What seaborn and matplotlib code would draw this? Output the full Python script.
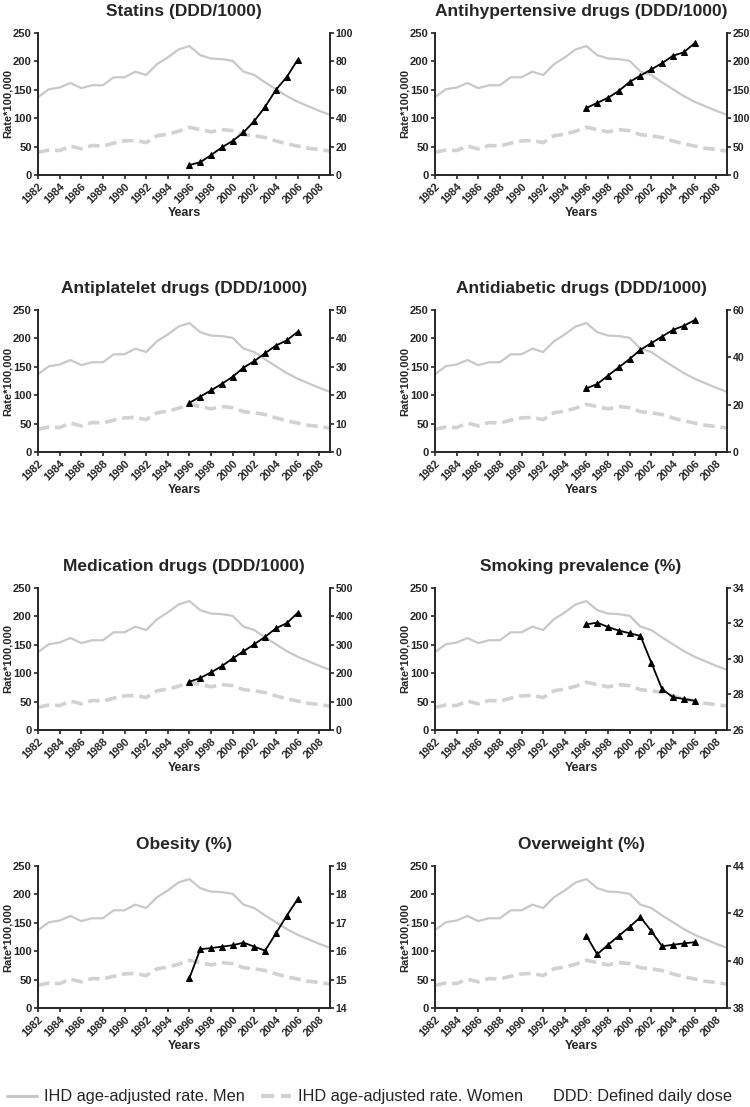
import numpy as np
import matplotlib
matplotlib.use("Agg")
import matplotlib.pyplot as plt
from matplotlib.lines import Line2D
import seaborn as sns

# IHD age-adjusted rates (per 100,000), 1982-2009
years = list(range(1982, 2010))
men = [137, 151, 154, 162, 153, 158, 158, 172, 172, 182, 176, 195, 207, 221,
       227, 211, 205, 204, 201, 182, 176, 163, 151, 139, 129, 121, 113, 106]
women = [40, 44, 43, 51, 46, 52, 51, 56, 60, 61, 57, 69, 72, 77,
         84, 80, 76, 80, 78, 71, 69, 66, 60, 55, 51, 47, 45, 42]

# risk factor series, 1996-2006
factor_years = list(range(1996, 2007))
statins = [7, 9, 14, 19.5, 24, 30, 38, 48, 60, 69, 81]
antihypertensive = [118, 127, 136, 148, 164, 175, 186, 197, 210, 216, 232]
antiplatelet = [17.3, 19.5, 21.7, 24, 26.5, 29.7, 32, 34.8, 37.5, 39.3, 42.3]
antidiabetic = [26.9, 28.7, 32.3, 35.8, 39.3, 43.2, 46, 48.8, 51.6, 53.3, 55.7]
medication = [170, 183, 203, 225, 252, 277, 302, 328, 358, 376, 412]
smoking = [31.95, 32.05, 31.8, 31.6, 31.45, 31.3, 29.8, 28.3, 27.85, 27.75, 27.65]
obesity = [15.05, 16.07, 16.11, 16.16, 16.21, 16.3, 16.16, 16.02, 16.63, 17.25, 17.83]
overweight = [41.05, 40.27, 40.67, 41.05, 41.43, 41.84, 41.25, 40.61, 40.67, 40.73, 40.78]

titles = ["Statins (DDD/1000)", "Antihypertensive drugs (DDD/1000)",
          "Antiplatelet drugs (DDD/1000)", "Antidiabetic drugs (DDD/1000)",
          "Medication drugs (DDD/1000)", "Smoking prevalence (%)",
          "Obesity (%)", "Overweight (%)"]
series = [statins, antihypertensive, antiplatelet, antidiabetic,
          medication, smoking, obesity, overweight]
right_ticks = [np.arange(0, 101, 20), np.arange(0, 251, 50),
               np.arange(0, 51, 10), np.arange(0, 61, 20),
               np.arange(0, 501, 100), np.arange(26, 35, 2),
               np.arange(14, 20, 1), np.arange(38, 45, 2)]

sns.set_style("ticks")
plt.rcParams['font.family'] = ['Liberation Sans', 'DejaVu Sans']

fig = plt.figure(figsize=(7.5, 11.07), dpi=100)

W, H = 750, 1107
col_left = [38, 435]
row_top = [33, 310, 588, 866]
ax_w, ax_h = 292, 142

men_col = "#c9c9c9"
women_col = "#d2d2d2"

for i, (title, vals, rt) in enumerate(zip(titles, series, right_ticks)):
    r, c = divmod(i, 2)
    ax = fig.add_axes([col_left[c] / W, 1 - (row_top[r] + ax_h) / H,
                       ax_w / W, ax_h / H])
    sns.lineplot(x=years, y=men, ax=ax, color=men_col, lw=1.6)
    sns.lineplot(x=years, y=women, ax=ax, color=women_col, lw=2.6)
    ax.lines[-1].set_dashes([3.2, 1.6])
    ax.set_xlim(1982, 2009)
    ax.set_ylim(0, 250)
    ax.set_yticks(range(0, 251, 50))
    ax.set_xticks(range(1982, 2009, 2))
    ax.set_xticklabels([str(y) for y in range(1982, 2009, 2)], rotation=45,
                       ha='right', rotation_mode='anchor')
    ax.set_ylabel("Rate*100,000", fontsize=8, fontweight='bold', labelpad=0.5)
    ax.set_xlabel("Years", fontsize=9, fontweight='bold', labelpad=1)
    ax.set_title(title, fontsize=12.5, fontweight='bold', pad=12)

    ax2 = ax.twinx()
    sns.lineplot(x=factor_years, y=vals, ax=ax2, color='black', lw=1.3,
                 marker='^', markersize=5, markeredgecolor='black')
    ax2.set_ylim(rt[0], rt[-1])
    ax2.set_yticks(rt)
    ax2.set_ylabel("")

    for a in (ax, ax2):
        a.spines['top'].set_visible(False)
        for s in a.spines.values():
            s.set_linewidth(1.4)
        a.tick_params(length=3, width=1.2, labelsize=8, pad=1.5)
        for lab in a.get_xticklabels() + a.get_yticklabels():
            lab.set_fontweight('bold')
    ax.tick_params(axis='x', labelsize=7.8)
    ax2.tick_params(axis='y', labelsize=7.6, pad=1)
    ax.spines['right'].set_visible(False)
    ax2.spines['left'].set_visible(False)
    ax2.spines['bottom'].set_visible(False)

handles = [Line2D([], [], color=men_col, lw=2.2),
           Line2D([], [], color=women_col, lw=3, dashes=[3.2, 1.6])]
labels = ["IHD age-adjusted rate. Men", "IHD age-adjusted rate. Women"]
fig.legend(handles, labels, loc='center left',
           bbox_to_anchor=(7 / W, 1 - 1097 / H),
           ncol=2, frameon=False, handlelength=1.8, handletextpad=0.45,
           columnspacing=1.0, borderpad=0, borderaxespad=0,
           prop={'size': 11.8})
fig.text(553 / W, 1 - 1097 / H, "DDD: Defined daily dose", fontsize=11.8,
         ha='left', va='center')

fig.savefig("out.png", dpi=100)
